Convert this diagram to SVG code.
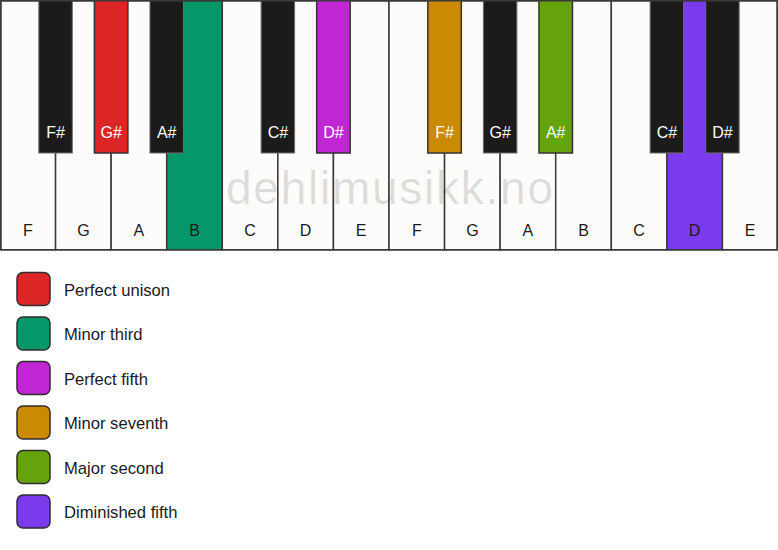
<svg xmlns="http://www.w3.org/2000/svg" width="778" height="550" viewBox="0 0 778 550">
<style>
.w{fill:#fdfcfa;stroke:#3a3a3a;stroke-width:1.5}
.b{fill:#1c1b1a;stroke:#6e6e6e;stroke-width:1}
.bc{stroke:#333;stroke-width:1.5}
.wl{font-family:"Liberation Sans",Arial,sans-serif;font-size:16px;fill:#1a1a1a;text-anchor:middle}
.bl{font-family:"Liberation Sans",Arial,sans-serif;font-size:16px;fill:#ffffff;text-anchor:middle}
.sw{stroke:#2e2e2e;stroke-width:1.5}
.lt{font-family:"Liberation Sans",Arial,sans-serif;font-size:16.6px;fill:#1a1a1a}
.wm{font-family:"Liberation Sans",Arial,sans-serif;font-size:46px;fill:#000;fill-opacity:0.13;text-anchor:middle}
</style>
<rect x="0" y="0" width="778" height="550" fill="#ffffff"/>
<g id="white-keys">
<g id="key-F1"><rect class="w" x="0.75" y="0.75" width="54.82" height="249"/><text class="wl" x="27.79" y="236">F</text></g>
<g id="key-G1"><rect class="w" x="55.57" y="0.75" width="55.57" height="249"/><text class="wl" x="83.36" y="236">G</text></g>
<g id="key-A1"><rect class="w" x="111.14" y="0.75" width="55.57" height="249"/><text class="wl" x="138.93" y="236">A</text></g>
<g id="key-B1"><rect class="w" style="fill:#059669" x="166.71" y="0.75" width="55.57" height="249"/><text class="wl" x="194.5" y="236">B</text></g>
<g id="key-C1"><rect class="w" x="222.29" y="0.75" width="55.57" height="249"/><text class="wl" x="250.07" y="236">C</text></g>
<g id="key-D1"><rect class="w" x="277.86" y="0.75" width="55.57" height="249"/><text class="wl" x="305.64" y="236">D</text></g>
<g id="key-E1"><rect class="w" x="333.43" y="0.75" width="55.57" height="249"/><text class="wl" x="361.21" y="236">E</text></g>
<g id="key-F2"><rect class="w" x="389" y="0.75" width="55.57" height="249"/><text class="wl" x="416.79" y="236">F</text></g>
<g id="key-G2"><rect class="w" x="444.57" y="0.75" width="55.57" height="249"/><text class="wl" x="472.36" y="236">G</text></g>
<g id="key-A2"><rect class="w" x="500.14" y="0.75" width="55.57" height="249"/><text class="wl" x="527.93" y="236">A</text></g>
<g id="key-B2"><rect class="w" x="555.71" y="0.75" width="55.57" height="249"/><text class="wl" x="583.5" y="236">B</text></g>
<g id="key-C2"><rect class="w" x="611.29" y="0.75" width="55.57" height="249"/><text class="wl" x="639.07" y="236">C</text></g>
<g id="key-D2"><rect class="w" style="fill:#7c3aed" x="666.86" y="0.75" width="55.57" height="249"/><text class="wl" x="694.64" y="236">D</text></g>
<g id="key-E2"><rect class="w" x="722.43" y="0.75" width="54.82" height="249"/><text class="wl" x="750.21" y="236">E</text></g>
</g>
<text class="wm" x="389.5" y="204" textLength="327" lengthAdjust="spacing">dehlimusikk.no</text>
<g id="black-keys">
<g id="key-Fs1"><rect class="b" x="38.82" y="-1" width="33.5" height="154"/><text class="bl" x="55.57" y="138">F#</text></g>
<g id="key-Gs1"><rect class="b bc" style="fill:#dc2626" x="94.39" y="-1" width="33.5" height="154"/><text class="bl" x="111.14" y="138">G#</text></g>
<g id="key-As1"><rect class="b" x="149.96" y="-1" width="33.5" height="154"/><text class="bl" x="166.71" y="138">A#</text></g>
<g id="key-Cs1"><rect class="b" x="261.11" y="-1" width="33.5" height="154"/><text class="bl" x="277.86" y="138">C#</text></g>
<g id="key-Ds1"><rect class="b bc" style="fill:#c026d3" x="316.68" y="-1" width="33.5" height="154"/><text class="bl" x="333.43" y="138">D#</text></g>
<g id="key-Fs2"><rect class="b bc" style="fill:#ca8a04" x="427.82" y="-1" width="33.5" height="154"/><text class="bl" x="444.57" y="138">F#</text></g>
<g id="key-Gs2"><rect class="b" x="483.39" y="-1" width="33.5" height="154"/><text class="bl" x="500.14" y="138">G#</text></g>
<g id="key-As2"><rect class="b bc" style="fill:#65a30d" x="538.96" y="-1" width="33.5" height="154"/><text class="bl" x="555.71" y="138">A#</text></g>
<g id="key-Cs2"><rect class="b" x="650.11" y="-1" width="33.5" height="154"/><text class="bl" x="666.86" y="138">C#</text></g>
<g id="key-Ds2"><rect class="b" x="705.68" y="-1" width="33.5" height="154"/><text class="bl" x="722.43" y="138">D#</text></g>
</g>
<rect x="0.75" y="0.75" width="776.5" height="249" fill="none" stroke="#3a3a3a" stroke-width="1.5"/>
<g id="legend">
<g id="legend-unison"><rect class="sw" fill="#dc2626" x="17" y="272.5" width="33" height="33" rx="6"/><text class="lt" x="64" y="295.5">Perfect unison</text></g>
<g id="legend-minor-third"><rect class="sw" fill="#059669" x="17" y="317" width="33" height="33" rx="6"/><text class="lt" x="64" y="340">Minor third</text></g>
<g id="legend-perfect-fifth"><rect class="sw" fill="#c026d3" x="17" y="361.5" width="33" height="33" rx="6"/><text class="lt" x="64" y="384.5">Perfect fifth</text></g>
<g id="legend-minor-seventh"><rect class="sw" fill="#ca8a04" x="17" y="406" width="33" height="33" rx="6"/><text class="lt" x="64" y="429">Minor seventh</text></g>
<g id="legend-major-second"><rect class="sw" fill="#65a30d" x="17" y="450.5" width="33" height="33" rx="6"/><text class="lt" x="64" y="473.5">Major second</text></g>
<g id="legend-diminished-fifth"><rect class="sw" fill="#7c3aed" x="17" y="495" width="33" height="33" rx="6"/><text class="lt" x="64" y="518">Diminished fifth</text></g>
</g>
</svg>
